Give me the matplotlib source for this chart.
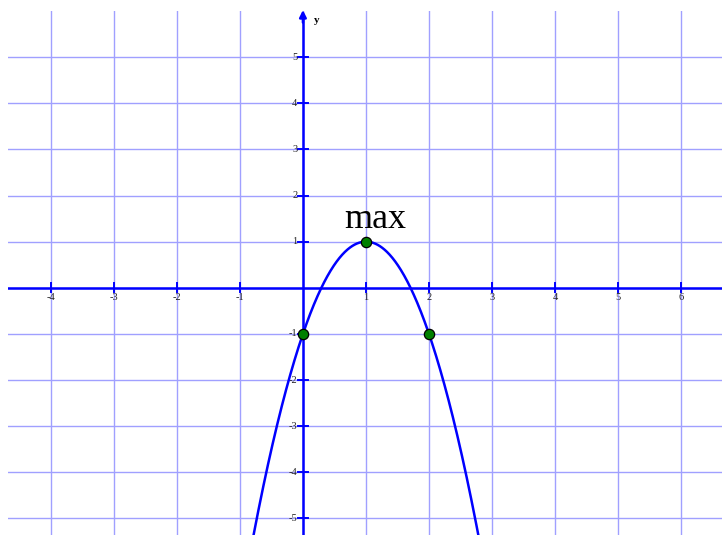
import numpy as np
import matplotlib
matplotlib.use("Agg")
import matplotlib.pyplot as plt

# Data
x_ticks = [-4, -3, -2, -1, 1, 2, 3, 4, 5, 6]
y_ticks = [-5, -4, -3, -2, -1, 1, 2, 3, 4, 5]
point_x = [0, 1, 2]
point_y = [-1, 1, -1]
coef_a, vertex_h, vertex_k = -2, 1, 1  # y = a (x - h)^2 + k
annotation = "max"

xmin, xmax = -4.68, 6.65
ymin, ymax = -5.36, 6.0

fig = plt.figure(figsize=(7.22, 5.35), dpi=100)
ax = fig.add_axes([8/722, 0, 714/722, 524/535])
ax.set_xlim(xmin, xmax)
ax.set_ylim(ymin, ymax)
ax.axis("off")

grid_color = "#a0a0ff"
for gx in range(-4, 7):
    ax.axvline(gx, color=grid_color, lw=1.0, zorder=1)
for gy in range(-5, 6):
    ax.axhline(gy, color=grid_color, lw=1.0, zorder=1)

axis_color = "#0000ff"
ax.axhline(0, color=axis_color, lw=1.8, zorder=2)
ax.plot([0, 0], [ymin, ymax - 0.12], color=axis_color, lw=1.8, zorder=2, clip_on=False)
ax.annotate("", xy=(0, ymax + 0.02), xytext=(0, ymax - 0.25),
            arrowprops=dict(arrowstyle="-|>", color=axis_color, lw=1.8,
                            mutation_scale=10, shrinkA=0, shrinkB=0),
            annotation_clip=False, zorder=3)
ax.text(0.18, ymax - 0.2, "y", fontsize=8, fontweight="bold",
        family="Liberation Serif", ha="left", va="center")

# ticks
tx = 0.075
ty = 0.1
for t in x_ticks:
    ax.plot([t, t], [-ty, ty], color=axis_color, lw=1.4, zorder=3)
    ax.text(t, -0.22, str(t), fontsize=7.5,
            family="Liberation Serif", ha="center", va="center", color="#222222")
for t in y_ticks:
    ax.plot([-tx, tx], [t, t], color=axis_color, lw=1.4, zorder=3)
    ax.text(-0.09, t, str(t), fontsize=7.5, family="Liberation Serif",
            ha="right", va="center", color="#222222")

xs = np.linspace(-1.2, 3.2, 600)
ys = coef_a * (xs - vertex_h) ** 2 + vertex_k
ax.plot(xs, ys, color="#0000ff", lw=1.8, zorder=4)

ax.scatter(point_x, point_y, s=55, facecolor="#008000", edgecolor="black",
           linewidths=0.9, zorder=5)

ax.text(1.14, 1.47, annotation, fontsize=26, family="Liberation Serif",
        ha="center", va="center")

fig.savefig("out.png", dpi=100)
